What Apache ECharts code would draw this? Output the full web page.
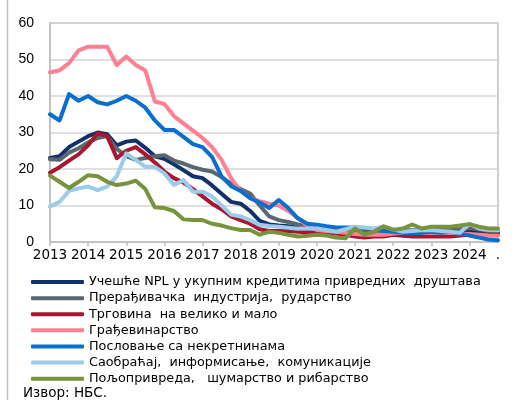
<!DOCTYPE html>
<html>
<head>
<meta charset="utf-8">
<script src="https://cdn.jsdelivr.net/npm/echarts@6/dist/echarts.min.js"></script>
<style>
html,body{margin:0;padding:0;background:#fff;}
#c{width:513px;height:400px;}
</style>
</head>
<body>
<div id="c"></div>
<script>
const years = ['2013','2014','2015','2016','2017','2018','2019','2020','2021','2022','2023','2024'];
const quarters = ['Q1','Q2','Q3','Q4'];
const lastLabel = '.';

const seriesNames = [
  'Учешће NPL у укупним кредитима привредних  друштава',
  'Прерађивачка  индустрија,  рударство',
  'Трговина  на велико и мало',
  'Грађевинарство',
  'Пословање са некретнинама',
  'Саобраћај,  информисање,  комуникације',
  'Пољопривреда,   шумарство и рибарство'
];

const totalNPL = [23,23.5,26,27.5, 29,30,29.5,26.5, 27.5,27.8,25.8,23.5, 22.8,21.3,19.7,18, 17.5,15.5,13.2,11, 10.5,8.5,5.8,4.8, 4.5,4.3,4,3.8, 3.7,3.5,3.4,3.5, 3.3,3.2,3.3,3.2, 3,3,3,3, 3,3,3,3, 3,3,2.7,2.6];
const manufacturing = [22.7,22.5,24.5,25.7, 27.3,28.5,29,25.5, 23.5,22.5,23,23.5, 23.8,22.3,21.5,20.5, 19.8,19.3,17.8,16, 14.5,13.3,10,7, 6,5.5,4.8,4.3, 3.8,3.5,3.5,3.3, 3.2,3,3,3, 3,3.2,3.2,3.3, 3.4,3.5,3.5,3.5, 3.8,3.5,3,3];
const trade = [19,20.5,22.3,24, 26.5,29.8,29,23, 25,26,24,21.8, 19.3,17.5,16.3,14.5, 12.5,10.5,9,7, 6,5,3.5,3, 3,3,2.8,2.7, 2.5,2.3,2.3,2, 1.5,1.2,1.5,1.5, 2,1.7,1.5,1.5, 1.5,1.5,1.5,1.8, 2,2,2,2];
const construction = [46.5,47,49,52.5, 53.5,53.5,53.5,48.5, 50.8,48.5,47,38.5, 37.8,34.5,32.5,30.5, 28.5,26,22.5,17.5, 14,12,11.2,10.5, 10,8.5,6.5,4.5, 3.3,3,2.8,2.5, 2.2,2,2,2, 2.3,2.5,2.5,2.6, 2.8,2.8,2.5,2.3, 2.2,2,1.8,1.7];
const realEstate = [35,33.3,40.5,38.7, 40,38.3,37.7,38.7, 40,38.7,36.8,33.3, 30.7,30.7,28.8,26.8, 26,23.3,18,15.3, 14,12,10.8,9.3, 11.5,9.3,6.5,5, 4.7,4.3,4,4, 4,3.8,3.5,3, 2.8,2.5,2.5,2.5, 2.8,2.5,2.8,2.3, 1.8,1.2,0.7,0.5];
const transport = [9.7,11,14,14.7, 15.2,14.2,15.2,18, 24.3,22.5,20.6,20.6, 18.8,15.6,17,13.8, 13.8,12.5,10,7.5, 7,6,4.7,4.4, 4.2,3.9,3.6,3.7, 3.7,3.3,2.8,3.5, 4.2,4,3.7,4.2, 3.5,2.8,3,3.2, 3.3,3,2.8,2.5, 5,3.7,3.3,3.2];
const agriculture = [18.2,16.5,14.8,16.5, 18.3,18,16.5,15.6, 16,16.8,14.5,9.5, 9.3,8.5,6.2,6, 6,5,4.5,3.8, 3.3,3.3,2,2.8, 2.5,2,1.5,1.7, 2,1.8,1.2,1, 3.7,2,2.8,4.3, 3.3,3.7,4.8,3.7, 4.2,4.2,4.2,4.5, 4.9,4.2,3.7,3.7];

const seriesData = [totalNPL, manufacturing, trade, construction, realEstate, transport, agriculture];
const colors = ['#12306a','#5b6770','#a8162f','#ff8090','#0a6fcc','#9ccbeb','#77933c'];

const categories = [];
years.forEach(y => quarters.forEach(q => categories.push(y + ' ' + q)));

const chart = echarts.init(document.getElementById('c'), null, {renderer:'canvas'});
const font = 'Liberation Sans, Arial, sans-serif';
const wideFont = 'DejaVu Sans, sans-serif';

chart.setOption({
  animation: false,
  backgroundColor: '#fff',
  grid: {left: 50, right: 15, top: 23, bottom: 158, show: true, borderColor: '#bfbfbf', borderWidth: 1.5, containLabel: false},
  xAxis: {
    type: 'category',
    data: categories,
    boundaryGap: false,
    axisLine: {lineStyle: {color: '#bfbfbf', width: 1.5}},
    axisTick: {show: true, interval: 3, length: 4, lineStyle: {color: '#bfbfbf', width: 1.5}},
    axisLabel: {
      interval: (i) => i % 4 === 0 || i === categories.length - 1,
      formatter: (v, i) => i === categories.length - 1 ? lastLabel : v.split(' ')[0],
      color: '#000', fontFamily: wideFont, fontSize: 13.5, margin: 6
    },
    splitLine: {show: false}
  },
  yAxis: {
    type: 'value', min: 0, max: 60, interval: 10,
    axisLine: {show: true, lineStyle: {color: '#bfbfbf', width: 1.5}},
    axisTick: {show: false},
    axisLabel: {color: '#000', fontFamily: font, fontSize: 14, margin: 16},
    splitLine: {lineStyle: {color: '#d4d4d4', width: 1.5}}
  },
  legend: {
    orient: 'vertical', left: 26, top: 269,
    itemWidth: 53, itemHeight: 4, itemGap: 0,
    icon: 'roundRect',
    textStyle: {color: '#000', fontFamily: wideFont, fontSize: 12.8, lineHeight: 16.1},
    data: seriesNames
  },
  graphic: [
    {type: 'line', shape: {x1: 7.5, y1: 0, x2: 7.5, y2: 400}, style: {stroke: '#bfbfbf', lineWidth: 1.5}},
    {type: 'text', left: 23, top: 386, style: {text: 'Извор: НБС.', fill: '#000', font: '13.5px ' + wideFont}}
  ],
  series: seriesNames.map((n, k) => ({
    name: n, type: 'line', data: seriesData[k], showSymbol: false, symbol: 'none',
    lineStyle: {color: colors[k], width: 4, join: 'round', cap: 'round'},
    itemStyle: {color: colors[k]}
  }))
});
</script>
</body>
</html>
